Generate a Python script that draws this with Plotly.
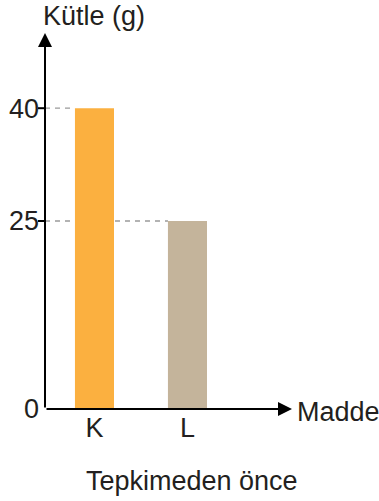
import plotly.graph_objects as go

# data
maddeler = ["K", "L"]
kutleler = [40, 25]
renkler = ["#FBB040", "#C4B49B"]
y_ticks = [0, 25, 40]

FONT = "Liberation Sans, Arial, sans-serif"
X0, X1 = -0.532, 2.124   # x range (category units)
Y0, Y1 = 0, 50
BAR_W = 0.42
PW, PH = 247, 376         # plot area size in px

fig = go.Figure()
fig.add_trace(go.Bar(x=maddeler, y=kutleler, width=BAR_W,
                     marker=dict(color=renkler, line=dict(width=0)),
                     showlegend=False, hoverinfo="skip"))

# dashed guide lines from the y axis to each bar's left edge
for i, v in enumerate(kutleler):
    fig.add_shape(type="line", xref="x", yref="y", x0=X0, x1=i - BAR_W / 2,
                  y0=v, y1=v, layer="below",
                  line=dict(color="#9a9a9a", width=1.3, dash="5px,5px"))

# small tick marks on the y axis (not at origin)
for v in y_ticks[1:]:
    fig.add_shape(type="line", xref="paper", yref="y", x0=-7 / PW, x1=0,
                  y0=v, y1=v, line=dict(color="black", width=2))

# axes with arrows
arrow = dict(showarrow=True, arrowhead=2, arrowsize=1.4, arrowwidth=2,
             arrowcolor="black", text="", xref="x", yref="y", axref="x", ayref="y")
fig.add_annotation(x=X0, y=Y1, ax=X0, ay=0, **arrow)
fig.add_annotation(x=X1, y=0, ax=X0, ay=0, **arrow)

txt = dict(family=FONT, size=27, color="#231f20")
fig.add_annotation(text="Kütle (g)", xref="paper", yref="paper",
                   x=-4 / PW, y=1 + 17 / PH, xanchor="left", yanchor="middle",
                   showarrow=False, font=txt)
fig.add_annotation(text="Madde", xref="paper", yref="paper",
                   x=1 + 3 / PW, y=-3 / PH, xanchor="left", yanchor="middle",
                   showarrow=False, font=txt)
fig.add_annotation(text="Tepkimeden önce", xref="paper", yref="paper",
                   x=(192 - 45) / PW, y=-72 / PH, xanchor="center", yanchor="middle",
                   showarrow=False, font=txt)

fig.update_layout(
    width=379, height=501,
    margin=dict(l=45, r=87, t=33, b=92),
    paper_bgcolor="white", plot_bgcolor="white",
    font=txt,
    xaxis=dict(range=[X0, X1], showgrid=False, zeroline=False, showline=False,
               ticks="", tickfont=txt, automargin=False, fixedrange=True),
    yaxis=dict(range=[Y0, Y1], showgrid=False, zeroline=False, showline=False,
               tickvals=y_ticks, ticks="", tickfont=txt, ticklabelstandoff=5,
               automargin=False, fixedrange=True),
)

# drop the browser's default 8px body margin so the figure sits at the corner
fig.write_html("out.html", config={"displayModeBar": False},
               post_script="document.body.style.margin='0';")
